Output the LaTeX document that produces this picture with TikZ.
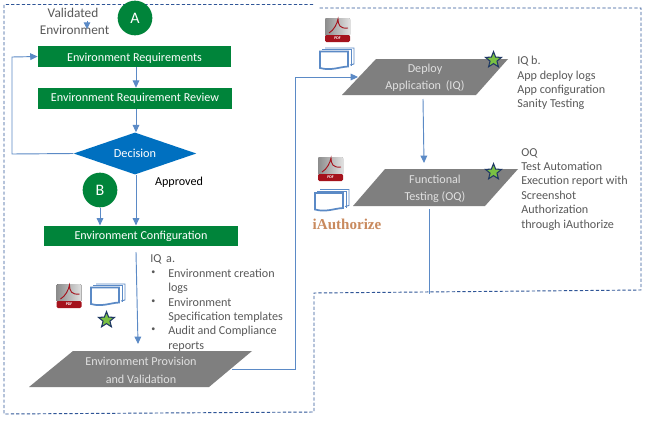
\documentclass[tikz,border=0pt]{standalone}
\usepackage{fontspec}
\setmainfont{Carlito}
\newfontfamily\serifbf{Liberation Serif}
\usetikzlibrary{shapes.geometric,arrows.meta,calc}
\definecolor{flowgreen}{HTML}{00843A}
\definecolor{flowblue}{HTML}{0070C0}
\definecolor{flowgrey}{HTML}{7F7F7F}
\definecolor{linkblue}{HTML}{5B8AC6}
\definecolor{edgeblue}{HTML}{2F5597}
\definecolor{notegrey}{HTML}{595959}
\definecolor{stargreen}{HTML}{7AC143}
\definecolor{starnavy}{HTML}{1F3864}
\definecolor{pdfred}{HTML}{A5121C}
\definecolor{authorange}{HTML}{C98A5E}
\tikzset{
  x=0.75pt,y=-0.75pt,
  greenbox/.style={fill=flowgreen,text=white,inner sep=0pt,font=\fontsize{9.1}{10}\selectfont},
  slabel/.style={text=white!88!black,align=center,font=\fontsize{9.1}{13}\selectfont,inner sep=0pt},
  badge/.style={circle,fill=flowgreen,text=white,minimum size=26pt,inner sep=0pt,font=\fontsize{12}{14}\selectfont},
  link/.style={draw=linkblue,line width=0.7pt,-{Triangle[length=5.5pt,width=5pt]}},
  plainlink/.style={draw=linkblue,line width=0.7pt},
  note/.style={text=notegrey,align=left,anchor=north west,inner sep=0pt,font=\fontsize{9.1}{10.8}\selectfont},
  greenstar/.style={star,star points=5,star point ratio=2.3,minimum size=12.5pt,inner sep=0pt,fill=stargreen,draw=starnavy,line width=0.8pt},
  bound/.style={draw=edgeblue,line width=0.7pt,dash pattern=on 2.4pt off 1.6pt},
  pics/pdficon/.style={code={
    \fill[left color=white!55!black,right color=white!88!black,rounded corners=1pt] (0,0) rectangle (25,18);
    \fill[pdfred,rounded corners=1pt] (0,17) rectangle (25,24);
    \node[text=white,font=\fontsize{3}{3}\bfseries\selectfont,inner sep=0pt] at (12.5,20.5) {PDF};
    \draw[pdfred,line width=0.7pt] (4,15) .. controls (9,12) and (12,6) .. (13,1) .. controls (13,7) and (15,11) .. (23,10);
  }},
  pics/stackicon/.style={code={
    \draw[linkblue,line width=0.7pt] (6,0) -- (35,0) -- (35,16) -- (31,17);
    \draw[linkblue,line width=0.7pt] (3,1.5) -- (32,1.5) -- (32,18);
    \draw[linkblue,line width=1.3pt,fill=white] (1,3.5) -- (29,3.5) -- (29,18.5) .. controls (20,19) and (12,23) .. (1,20) -- cycle;
  }},
}
\begin{document}
\begin{tikzpicture}
\useasboundingbox (0,0) rectangle (648,421);
\fill[white] (0,0) rectangle (648,421);

% boundary
\draw[bound] (313,4.5) -- (4,4.5) -- (4,414) -- (314,412) -- (314,293) -- (641,290) -- (641,8) -- (318,8);

% loose texts
\node[text=notegrey,font=\fontsize{10}{10}\selectfont,inner sep=0pt] (val) at (73,13) {Validated};
\node[text=notegrey,font=\fontsize{10}{10}\selectfont,inner sep=0pt] (env) at (74.5,29.5) {Environment};
\coordinate (valtop) at (87,21);
\coordinate (valtip) at (87,29);
\node[badge] (A) at (135,18) {A};
\node[badge] (B) at (100,190) {B};

% boxes
\node[greenbox,minimum width=145pt,minimum height=15.75pt,text depth=0pt] (req) at (134.5,56.5) {\raisebox{-0.6pt}{Environment Requirements}};
\node[greenbox,minimum width=145.5pt,minimum height=15.75pt] (rev) at (135,98.5) {\raisebox{-0.6pt}{Environment Requirement Review}};
\node[diamond,aspect=2.9,fill=flowblue,text=white,inner sep=0pt,minimum width=92pt,minimum height=31.5pt,font=\fontsize{9.2}{10}\selectfont] (dec) at (135,153.5) {Decision};
\node[greenbox,minimum width=145.5pt,minimum height=15.5pt] (cfg) at (141,236) {\raisebox{-1pt}{Environment Configuration}};
\node[font=\fontsize{9.1}{10}\selectfont,inner sep=0pt,text=black] (appr) at (179,182.5) {Approved};

% notes (under the parallelogram)
\node[note] (iqa) at (150,254) {IQ\, a.};
\foreach \n/\y in {1/270.5,2/299.5,3/328}{\node[note,font=\fontsize{6}{8}\selectfont] (bul\n) at (151,\y) {•};}
\node[note] (it1) at (168,268.5) {Environment creation\\logs};
\node[note] (it2) at (168,297.5) {Environment\\Specification templates};
\node[note] (it3) at (168,326) {Audit and Compliance\\reports};
\node[note] (iqb) at (517,56) {IQ b.\\App deploy logs\\App configuration\\Sanity Testing};
\node[note] (oqt) at (521,148) {OQ\\Test Automation\\Execution report with\\Screenshot\\Authorization\\through iAuthorize};
\node[text=authorange,font=\serifbf\bfseries\fontsize{11.3}{12}\selectfont,inner sep=0pt] (iauth) at (347,224) {iAuthorize};

% parallelograms
\fill[flowgrey] (73,351) -- (252,351) -- (209,387) -- (29,387) -- cycle;
\fill[flowgrey] (376,59) -- (508,59) -- (476,95) -- (342,95) -- cycle;
\fill[flowgrey] (385,169) -- (518,169) -- (485,206) -- (353,206) -- cycle;
\node[slabel] (prov) at (141,370.5) {Environment Provision\\and Validation};
\node[slabel] (dep) at (425,78) {Deploy\\Application\, (IQ)};
\node[slabel] (fun) at (435,188.5) {Functional\\Testing (OQ)};
\coordinate (provin) at (138,344);
\coordinate (provout) at (232,369.5);
\coordinate (depin) at (358,77);
\coordinate (depout) at (423,99);
\coordinate (funin) at (424,163);
\coordinate (funout) at (429,209);
\coordinate (funend) at (429,294);
\coordinate (cfgout) at (136,252);

% icons
\pic at (56.5,284) {pdficon};
\pic at (325,18) {pdficon};
\pic at (318,157) {pdficon};
\pic at (90,284) {stackicon};
\pic at (319,48) {stackicon};
\pic at (314,189.5) {stackicon};
\node[greenstar] (s1) at (106.5,320) {};
\node[greenstar] (s2) at (493.5,60) {};
\node[greenstar] (s3) at (493.5,172) {};

% connectors
\draw[link,-{Triangle[length=5pt,width=5pt]}] (valtop) -- (valtip);
\draw[link] (req.south -| 136,0) -- (rev.north -| 136,0);
\draw[link] (rev.south -| 136,0) -- (dec.north -| 136,0);
\draw[link] (dec.west) -- (12,154) -- (12,57) -- (req.west);
\draw[link] (dec.south) ++(1,0) -- (cfg.north -| 136,0);
\draw[link] (B.south) -- (cfg.north -| B.south);
\draw[link] (cfgout) -- (provin);
\draw[link] (provout) -- (295,369.5) -- (295,77) -- (depin);
\draw[link] (depout) -- (funin);
\draw[plainlink] (funout) -- (funend);
\end{tikzpicture}
\end{document}
